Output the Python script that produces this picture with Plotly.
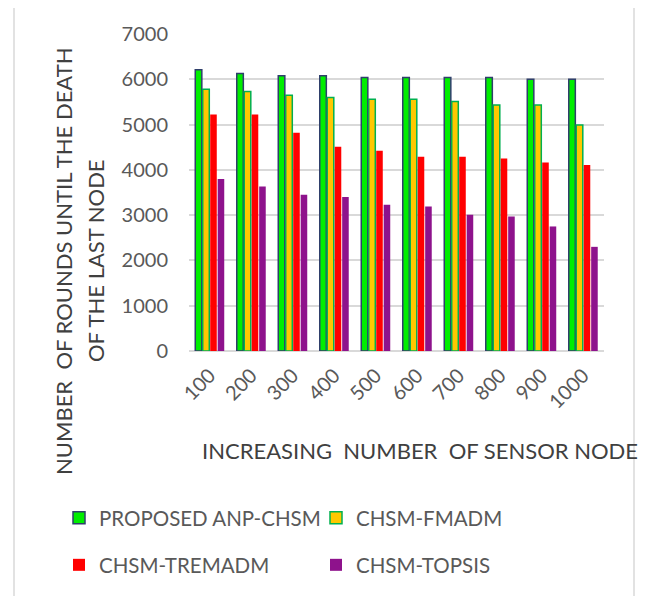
import plotly.graph_objects as go

nodes = ["100", "200", "300", "400", "500", "600", "700", "800", "900", "1000"]
anp_chsm = [6210, 6130, 6080, 6080, 6040, 6040, 6040, 6040, 6000, 6000]
chsm_fmadm = [5780, 5730, 5650, 5600, 5560, 5560, 5510, 5430, 5430, 4990]
chsm_tremadm = [5220, 5220, 4820, 4510, 4420, 4290, 4290, 4250, 4160, 4110]
chsm_topsis = [3800, 3630, 3450, 3400, 3230, 3190, 3010, 2970, 2750, 2300]

series_names = ["PROPOSED ANP-CHSM", "CHSM-FMADM", "CHSM-TREMADM", "CHSM-TOPSIS"]

FONT = "Lato"
TICK = "#595959"
TITLE = "#404040"
GRID = "#D9D9D9"

fig = go.Figure()
fig.add_bar(x=nodes, y=anp_chsm, name=series_names[0],
            marker=dict(color="#00EE00", line=dict(color="#2F3F6B", width=1.5)),
            legend="legend")
fig.add_bar(x=nodes, y=chsm_fmadm, name=series_names[1],
            marker=dict(color="#FFC800", line=dict(color="#00B050", width=1.5)),
            legend="legend")
fig.add_bar(x=nodes, y=chsm_tremadm, name=series_names[2],
            marker=dict(color="#FF0000", line=dict(width=0)),
            legend="legend2")
fig.add_bar(x=nodes, y=chsm_topsis, name=series_names[3],
            marker=dict(color="#8E128C", line=dict(width=0)),
            legend="legend2")

# page body margin offset (8px) compensation
OFF = 8
W, H = 649, 596
L, T = 189 - OFF, 34 - OFF
R = W - (604 - OFF)
B = H - (351 - OFF)
pw = W - L - R
ph = H - T - B

def px_x(x):
    return (x - OFF - L) / pw

def px_y(y):
    return (H - B - (y - OFF)) / ph

legend_common = dict(
    orientation="h", xanchor="left", yanchor="middle",
    font=dict(family=FONT, size=20.5, color=TICK),
    entrywidth=212, bgcolor="rgba(0,0,0,0)", traceorder="normal",
)

fig.update_layout(
    width=W, height=H,
    margin=dict(l=L, r=R, t=T, b=B),
    plot_bgcolor="white", paper_bgcolor="white",
    barmode="group", bargap=0.28, bargroupgap=0.12,
    font=dict(family=FONT, color=TICK),
    legend=dict(x=px_x(59), y=px_y(518), **legend_common),
    legend2=dict(x=px_x(59), y=px_y(565), **legend_common),
    xaxis=dict(
        type="category", tickangle=-45, showgrid=False, showline=False,
        tickfont=dict(family=FONT, size=20, color=TICK),
        ticks="", ticklabelstandoff=8,
    ),
    yaxis=dict(
        range=[0, 7000], dtick=1000, showgrid=True, gridcolor=GRID, gridwidth=1.5,
        zeroline=True, zerolinecolor=GRID, zerolinewidth=1.5, showline=False,
        tickfont=dict(family=FONT, size=20, color=TICK),
        ticks="", ticklabelstandoff=20,
    ),
    shapes=[dict(type="rect", xref="paper", yref="paper",
                 x0=px_x(14), x1=px_x(634), y0=px_y(620), y1=px_y(6),
                 line=dict(color=GRID, width=1.5), fillcolor="rgba(0,0,0,0)", layer="below")],
    annotations=[
        dict(text="NUMBER  OF ROUNDS UNTIL THE DEATH", xref="paper", yref="paper",
             x=px_x(63), y=px_y(261), xanchor="center", yanchor="middle",
             textangle=-90, showarrow=False,
             font=dict(family=FONT, size=22, color=TITLE)),
        dict(text="OF THE LAST NODE", xref="paper", yref="paper",
             x=px_x(95), y=px_y(261), xanchor="center", yanchor="middle",
             textangle=-90, showarrow=False,
             font=dict(family=FONT, size=22, color=TITLE)),
        dict(text="INCREASING  NUMBER  OF SENSOR NODE", xref="paper", yref="paper",
             x=px_x(200), y=px_y(450), xanchor="left", yanchor="middle",
             showarrow=False,
             font=dict(family=FONT, size=22, color=TITLE)),
    ],
)

fig.write_html("out.html")
